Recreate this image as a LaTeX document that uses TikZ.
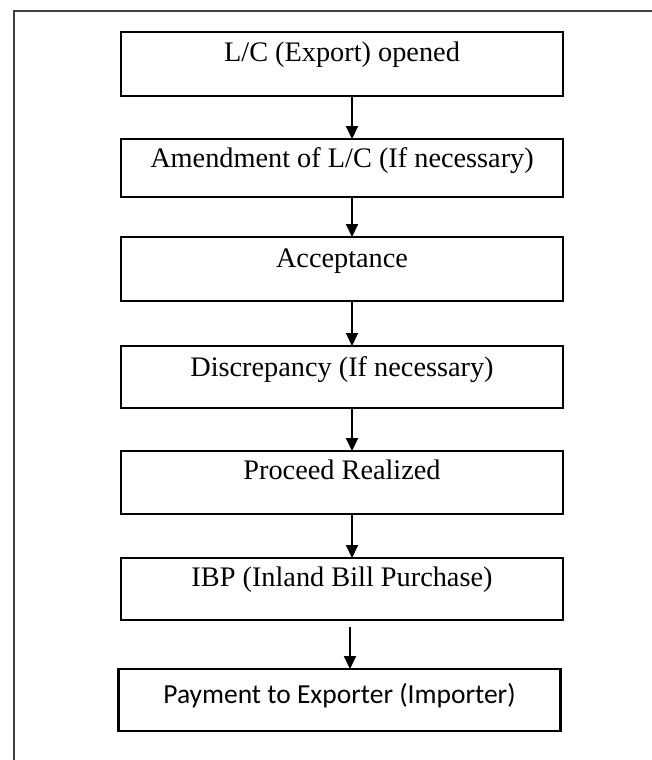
\documentclass[tikz,border=0pt]{standalone}
\usepackage{fontspec}
\setmainfont{Liberation Serif}
\newfontfamily\calibrifont{Carlito}
\usetikzlibrary{positioning}
\usetikzlibrary{arrows.meta}
\tikzset{
    node distance=43pt,
    stage/.style={
        draw,
        line width=2.2pt,
        inner sep=0pt,
        outer sep=0pt,
        minimum width=442pt,
        text height=30pt,
        text depth=32pt,
        font=\fontsize{28.3pt}{34pt}\selectfont
    },
    flow/.style={
        draw,
        line width=2pt,
        -{Triangle[length=13pt,width=12pt]}
    },
    frame/.style={
        draw=black!75,
        line width=2pt
    }
}

\begin{document}
\begin{tikzpicture}
                \useasboundingbox (0pt,0pt) rectangle (652pt,-760pt);
                \draw[frame] (14pt,-760pt) |- (652pt,-11pt);
                \node[stage, anchor=north, text depth=34pt] (b1) at (342pt,-32pt) {L/C (Export) opened};
                \node[stage, below=of b1, text height=28pt, text depth=30pt] (b2) {Amendment of L/C (If necessary)};
                \node[stage, below=40pt of b2, text depth=34pt] (b3) {Acceptance};
                \node[stage, below=45pt of b3] (b4) {Discrepancy (If necessary)};
                \node[stage, below=of b4, text height=28pt, text depth=35pt] (b5) {Proceed Realized};
                \node[stage, below=44pt of b5, text height=28pt, text depth=34pt] (b6) {IBP (Inland Bill Purchase)};
                \node[stage, below=49pt of b6, xshift=-2.5pt, text height=34pt, text depth=28pt,
                    font=\calibrifont\fontsize{27.5pt}{33pt}\selectfont] (b7) {Payment to Exporter (Importer)};
                \draw[flow] ([xshift=10pt]b1.south) -- ([xshift=10pt]b1.south |- b2.north);
                \draw[flow] ([xshift=10pt]b2.south) -- ([xshift=10pt]b2.south |- b3.north);
                \draw[flow] ([xshift=10pt]b3.south) -- ([xshift=10pt]b3.south |- b4.north);
                \draw[flow] ([xshift=10pt]b4.south) -- ([xshift=10pt]b4.south |- b5.north);
                \draw[flow] ([xshift=10pt]b5.south) -- ([xshift=10pt]b5.south |- b6.north);
                \draw[flow] ([xshift=8pt,yshift=-7pt]b6.south) -- ([xshift=8pt]b6.south |- b7.north);
            \end{tikzpicture}
\end{document}
